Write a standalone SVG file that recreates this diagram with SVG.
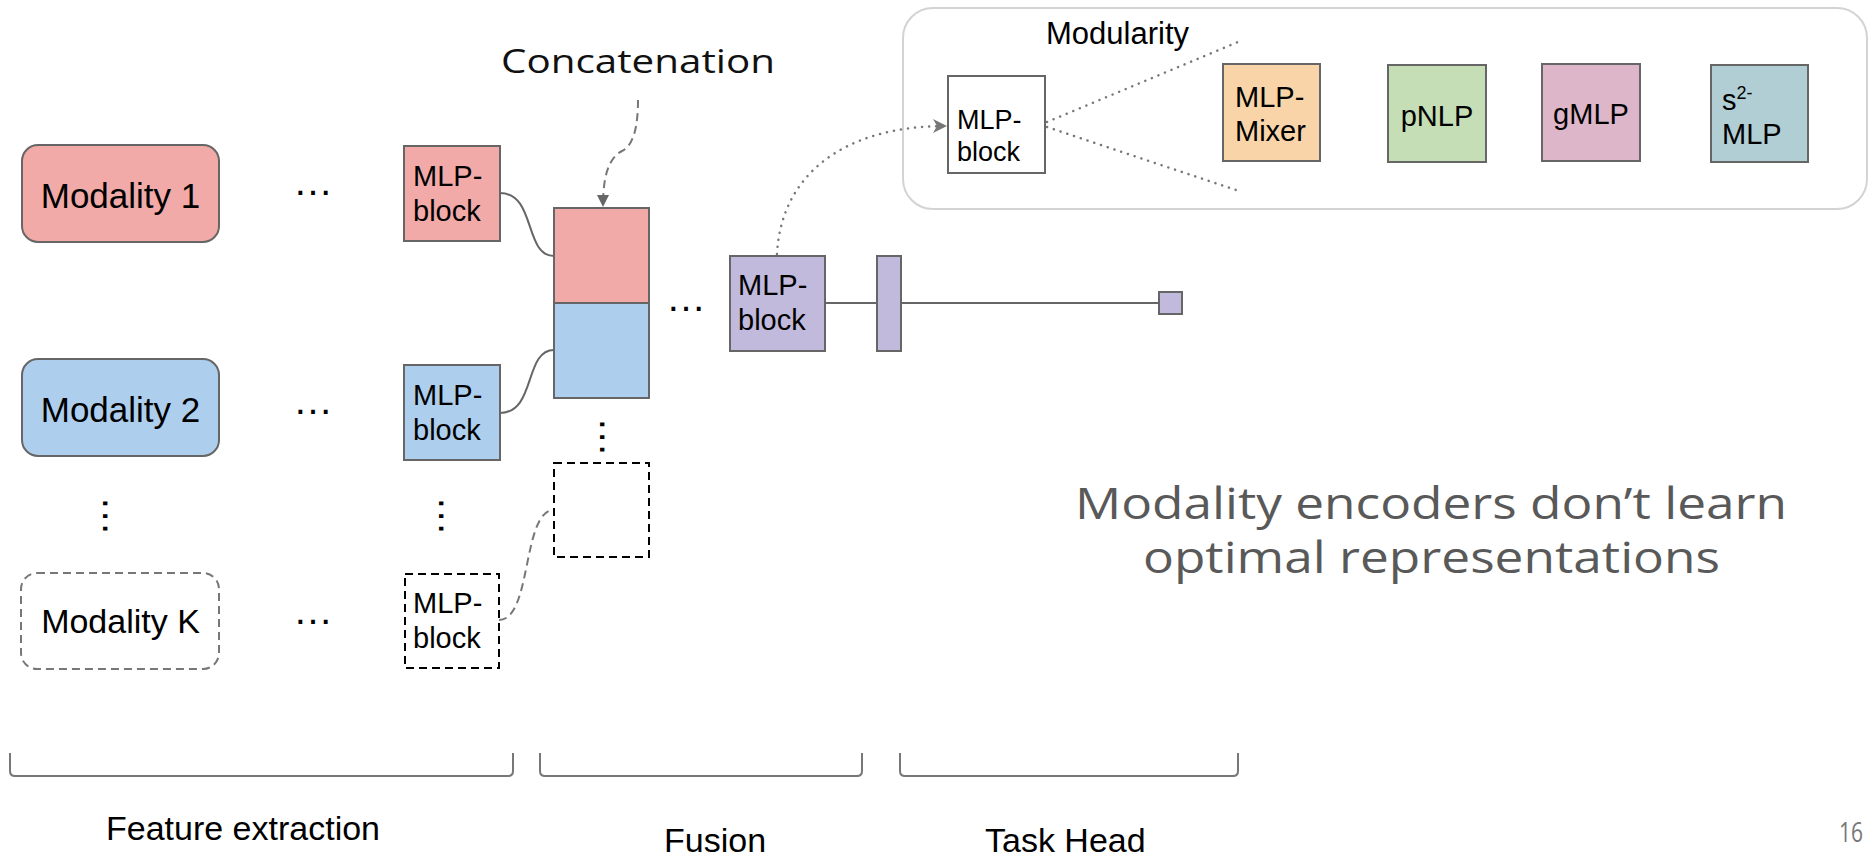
<svg xmlns="http://www.w3.org/2000/svg" width="1872" height="859" viewBox="0 0 1872 859">
<style>
  .bg{fill:#ffffff}
  .box{stroke:#666666;stroke-width:2}
  .t{font-family:"Liberation Sans",Arial,sans-serif;fill:#000000}
  .m{font-family:"Open Sans","Liberation Sans",sans-serif}
  .conn{fill:none;stroke:#666666;stroke-width:2}
  .dashk{fill:none;stroke:#777777;stroke-width:2;stroke-dasharray:8 5}
  .dot{fill:none;stroke:#777777;stroke-width:2.5;stroke-linecap:round;stroke-dasharray:0.1 7}
  .brk{fill:none;stroke:#777777;stroke-width:2}
  .red{fill:#F1AAA8}
  .blue{fill:#AECEEE}
  .purple{fill:#C2BADC}
</style>
<defs>
  <marker id="ah" viewBox="0 0 12 12" refX="11" refY="6" markerWidth="12" markerHeight="12" markerUnits="userSpaceOnUse" orient="auto">
    <path d="M0,0 L12,6 L0,12 z" fill="#666666"/>
  </marker>
  <marker id="ah2" viewBox="0 0 14 14" refX="13" refY="7" markerWidth="14" markerHeight="14" markerUnits="userSpaceOnUse" orient="auto">
    <path d="M0,0 L14,7 L0,14 L4,7 z" fill="#777777"/>
  </marker>
</defs>
<rect class="bg" x="0" y="0" width="1872" height="859"/>

<g id="modularity-panel">
  <rect x="903" y="8" width="964" height="201" rx="30" fill="#ffffff" stroke="#d3d3d3" stroke-width="2"/>
  <text class="t" x="1046" y="44" font-size="31">Modularity</text>
</g>

<g id="connectors">
  <path class="conn" d="M500,193 C536,193 524,256 554,256"/>
  <path class="conn" d="M500,413 C536,413 524,350 554,350"/>
  <path class="dashk" d="M499,620 C532,620 522,510 554,510" stroke-width="1.8"/>
  <path class="dashk" d="M638,100 C638,128 633,146 622,151 C608,158 603,178 603,206" marker-end="url(#ah)"/>
  <path class="dot" d="M777,254 C781,176 842,126 946,126" marker-end="url(#ah2)"/>
  <path class="dot" d="M1047,122 L1238,42"/>
  <path class="dot" d="M1047,127 L1236,190"/>
  <path class="conn" d="M825,303 L877,303"/>
  <path class="conn" d="M901,303 L1159,303"/>
</g>

<g id="modality1">
  <rect class="box red" x="22" y="145" width="197" height="97" rx="16"/>
  <text class="t" x="120.5" y="208" font-size="35" text-anchor="middle">Modality 1</text>
</g>
<g id="modality2">
  <rect class="box blue" x="22" y="359" width="197" height="97" rx="16"/>
  <text class="t" x="120.5" y="422" font-size="35" text-anchor="middle">Modality 2</text>
</g>
<g id="modalityK">
  <rect x="21" y="573" width="198" height="96" rx="16" fill="#ffffff" stroke="#777777" stroke-width="2" stroke-dasharray="8 5"/>
  <text class="t" x="120.5" y="633" font-size="34" text-anchor="middle">Modality K</text>
</g>

<g id="ellipses">
  <text class="t" x="293" y="195" font-size="40">…</text>
  <text class="t" x="293" y="414" font-size="40">…</text>
  <text class="t" x="293" y="624" font-size="40">…</text>
  <text class="t" x="666" y="311" font-size="40">…</text>
  <text class="t" font-size="40" transform="translate(103,496) rotate(90)">…</text>
  <text class="t" font-size="40" transform="translate(439,496) rotate(90)">…</text>
  <text class="t" font-size="40" transform="translate(600,417) rotate(90)">…</text>
</g>

<g id="mlp1">
  <rect class="box red" x="404" y="146" width="96" height="95"/>
  <text class="t" x="413" y="186" font-size="29">MLP-</text>
  <text class="t" x="413" y="221" font-size="29">block</text>
</g>
<g id="mlp2">
  <rect class="box blue" x="404" y="365" width="96" height="95"/>
  <text class="t" x="413" y="405" font-size="29">MLP-</text>
  <text class="t" x="413" y="440" font-size="29">block</text>
</g>
<g id="mlpK">
  <rect x="405" y="574" width="94" height="94" fill="#ffffff" stroke="#000000" stroke-width="2" stroke-dasharray="8 5"/>
  <text class="t" x="413" y="613" font-size="29">MLP-</text>
  <text class="t" x="413" y="648" font-size="29">block</text>
</g>

<g id="concat">
  <rect class="box red" x="554" y="208" width="95" height="95"/>
  <rect class="box blue" x="554" y="303" width="95" height="95"/>
  <rect x="554" y="463" width="95" height="94" fill="none" stroke="#000000" stroke-width="2" stroke-dasharray="8 5"/>
  <text x="501" y="73" font-size="32" class="m" fill="#111111" textLength="274" lengthAdjust="spacingAndGlyphs">Concatenation</text>
</g>

<g id="fusion-mlp">
  <rect class="box purple" x="730" y="256" width="95" height="95"/>
  <text class="t" x="738" y="295" font-size="29">MLP-</text>
  <text class="t" x="738" y="330" font-size="29">block</text>
</g>
<g id="head-layer">
  <rect class="box purple" x="877" y="256" width="24" height="95"/>
</g>
<g id="head-out">
  <rect class="box purple" x="1159" y="292" width="23" height="22"/>
</g>

<g id="mlp-white">
  <rect class="box" fill="#ffffff" x="948" y="76" width="97" height="97"/>
  <text class="t" x="957" y="129" font-size="27">MLP-</text>
  <text class="t" x="957" y="161" font-size="27">block</text>
</g>
<g id="mlp-mixer">
  <rect class="box" fill="#F9D4A8" x="1223" y="64" width="97" height="97"/>
  <text class="t" x="1235" y="107" font-size="29">MLP-</text>
  <text class="t" x="1235" y="141" font-size="29">Mixer</text>
</g>
<g id="pnlp">
  <rect class="box" fill="#C5DEB5" x="1388" y="65" width="98" height="97"/>
  <text class="t" x="1437" y="126" font-size="29" text-anchor="middle">pNLP</text>
</g>
<g id="gmlp">
  <rect class="box" fill="#DEB6C9" x="1542" y="64" width="98" height="97"/>
  <text class="t" x="1591" y="124" font-size="29" text-anchor="middle">gMLP</text>
</g>
<g id="s2mlp">
  <rect class="box" fill="#B1CED4" x="1711" y="65" width="97" height="97"/>
  <text class="t" x="1722" y="110" font-size="29">s<tspan font-size="18" dy="-11">2-</tspan></text>
  <text class="t" x="1722" y="144" font-size="29">MLP</text>
</g>

<g id="message">
  <text class="m" x="1075" y="519" font-size="44" fill="#595959" textLength="712" lengthAdjust="spacingAndGlyphs">Modality encoders don’t learn</text>
  <text class="m" x="1143" y="573" font-size="44" fill="#595959" textLength="577" lengthAdjust="spacingAndGlyphs">optimal representations</text>
</g>

<g id="brackets">
  <path class="brk" d="M10,753 L10,771 Q10,776 15,776 L508,776 Q513,776 513,771 L513,753"/>
  <path class="brk" d="M540,753 L540,771 Q540,776 545,776 L857,776 Q862,776 862,771 L862,753"/>
  <path class="brk" d="M900,753 L900,771 Q900,776 905,776 L1233,776 Q1238,776 1238,771 L1238,753"/>
  <text class="t" x="106" y="840" font-size="34">Feature extraction</text>
  <text class="t" x="664" y="852" font-size="34">Fusion</text>
  <text class="t" x="985" y="852" font-size="34">Task Head</text>
  <text class="m" x="1839" y="842" font-size="28" fill="#777777" textLength="24" lengthAdjust="spacingAndGlyphs">16</text>
</g>
</svg>
